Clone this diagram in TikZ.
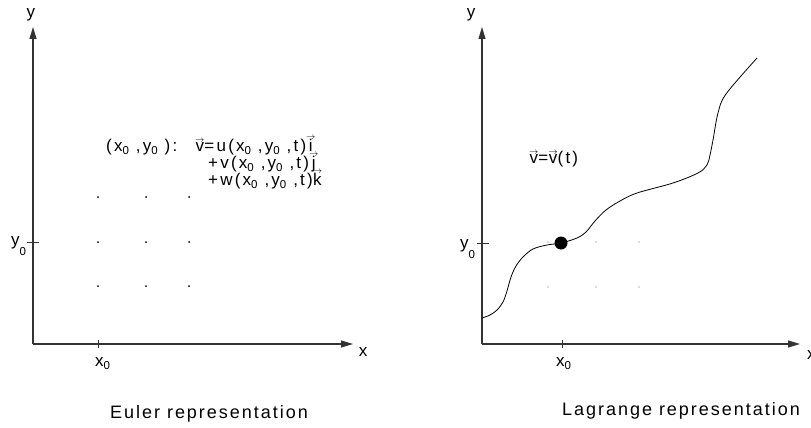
\documentclass[tikz,border=0pt]{standalone}
\usepackage{fontspec}
\setmainfont{Liberation Sans}[LetterSpace=13]
\newfontfamily\capfont{Liberation Sans}[LetterSpace=11]
\usetikzlibrary{arrows.meta}
\newcommand{\lo}[1]{\raisebox{-3.5pt}{\fontsize{11.5}{12}\selectfont #1}}
\newcommand{\ylo}[1]{\raisebox{-10pt}{\fontsize{11.5}{12}\selectfont #1}}
\newcommand{\vv}[1]{\leavevmode\vbox{\offinterlineskip\halign{\hfil##\hfil\cr
  {\fontsize{9}{9}\selectfont$\rightarrow$}\cr\noalign{\kern-0.5pt}#1\cr}}}
\begin{document}
\begin{tikzpicture}[x=1pt,y=-1pt,
  axis/.style={line width=1.1pt,black!80,-{Triangle[length=12pt,width=7pt]}},
  tick/.style={line width=0.8pt,black!80},
  lbl/.style={inner sep=0pt,font=\fontsize{17}{19}\selectfont},
  captext/.style={inner sep=0pt,font=\capfont\fontsize{18}{20}\selectfont},
  griddot/.style={circle,fill=black,inner sep=0pt,minimum size=2pt},
  faintdot/.style={circle,fill=black!60,inner sep=0pt,minimum size=1.2pt},
  bigdot/.style={circle,fill=black,inner sep=0pt,minimum size=13pt}]
\useasboundingbox (0,0) rectangle (811,428);
% ---------- Euler panel ----------
\coordinate (Lo) at (33,344);
\coordinate (Ly) at (33,27);
\coordinate (Lx) at (353,344);
\draw[axis] (Lo) -- (Ly);
\draw[axis] (Lo) -- (Lx);
\node[lbl] (Lylab) at (31,15) {y};
\node[lbl] (Lxlab) at (363,352) {x};
\coordinate (Lxt1) at (98,340); \coordinate (Lxt2) at (98,348);
\draw[tick] (Lxt1) -- (Lxt2);
\coordinate (Lyt1) at (27,242); \coordinate (Lyt2) at (39,242);
\draw[tick] (Lyt1) -- (Lyt2);
\node[lbl,anchor=base west] (Lx0) at (95,366) {x\lo{0}};
\node[lbl,anchor=base west] (Ly0) at (11,245) {y\ylo{0}};
\foreach \i/\x in {1/98,2/146,3/189}
  \foreach \j/\y in {1/197,2/242,3/286}
    \node[griddot] (Ld\i\j) at (\x,\y) {};
\node[lbl,anchor=base west] (Lpt) at (106,151) {(x\lo{0} ,y\lo{0} ):};
\node[lbl,anchor=base west] (Lf1) at (195,151) {\vv{v}=u(x\lo{0} ,y\lo{0} ,t)\vv{i}};
\node[lbl,anchor=base west] (Lf2) at (208,168) {+v(x\lo{0} ,y\lo{0} ,t)\vv{j}};
\node[lbl,anchor=base west] (Lf3) at (208,185) {+w(x\lo{0} ,y\lo{0} ,t)\vv{k}};
\node[captext,anchor=base] (Lcap) at (209,418) {Euler representation};
% ---------- Lagrange panel ----------
\coordinate (Ro) at (482,344);
\coordinate (Ry) at (482,27);
\coordinate (Rx) at (800,344);
\draw[axis] (Ro) -- (Ry);
\draw[axis] (Ro) -- (Rx);
\node[lbl] (Rylab) at (471,15) {y};
\node[lbl,anchor=west] (Rxlab) at (807,355) {x};
\coordinate (Rxt1) at (562,340); \coordinate (Rxt2) at (562,348);
\draw[tick] (Rxt1) -- (Rxt2);
\coordinate (Ryt1) at (477,243); \coordinate (Ryt2) at (489,243);
\draw[tick] (Ryt1) -- (Ryt2);
\node[lbl,anchor=base west] (Rx0) at (556,366) {x\lo{0}};
\node[lbl,anchor=base west] (Ry0) at (460,248) {y\ylo{0}};
\foreach \i/\x in {1/548,2/596,3/639}
  \foreach \j/\y in {2/242,3/287}
    \node[faintdot] (Rd\i\j) at (\x,\y) {};
\draw[line width=0.8pt,black] plot[smooth,tension=0.55] coordinates {
  (482,318) (490,315) (497,310) (503,302) (507,291) (511,277) (516,266)
  (523,257) (533,249) (547,245) (561,243) (577,238) (586,232) (595,221)
  (606,210) (620,201) (637,193) (673,183) (698,173) (707,165) (710,155)
  (713,140) (718,113) (726,94) (757,58)};
\node[bigdot] (P) at (561,243) {};
\node[lbl,anchor=base west] (Rv) at (529,163) {\vv{v}=\vv{v}(t)};
\node[captext,anchor=base] (Rcap) at (681,415) {Lagrange representation};
\end{tikzpicture}
\end{document}
